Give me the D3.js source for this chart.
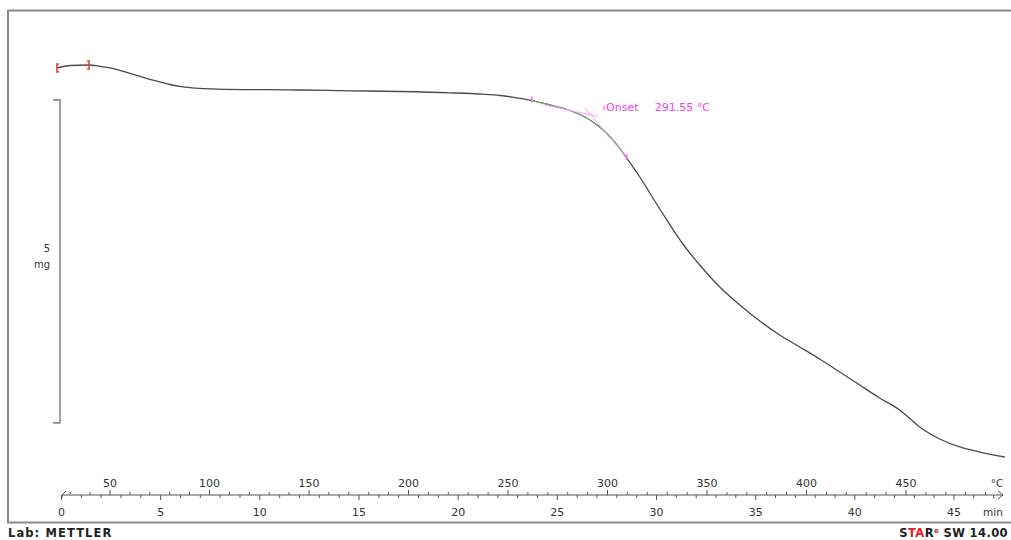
<!DOCTYPE html>
<html>
<head>
<meta charset="utf-8">
<script src="https://cdn.jsdelivr.net/npm/d3@7/dist/d3.min.js"></script>
<style>
  html, body { margin: 0; padding: 0; background: #fff; }
  svg { display: block; }
  text { font-family: "DejaVu Sans", Verdana, sans-serif; }
</style>
</head>
<body>
<svg id="chart" width="1011" height="540"></svg>
<script>
// TGA curve: sample mass (mg) against time (min), heating 10 K/min
const timeMin = [-0.23, 0.43, 1.39, 1.94, 2.44, 2.95, 3.45, 3.96, 4.46, 4.96,
  5.47, 5.97, 6.48, 6.98, 7.84, 12.02, 14.54, 17.06, 19.58, 21.24,
  22.10, 22.96, 23.71, 24.62, 25.48, 26.39, 27.14, 27.80, 28.50, 29.16,
  29.66, 30.52, 31.33, 32.18, 33.19, 34.20, 35.21, 36.21, 37.22, 38.23,
  39.24, 40.25, 41.25, 42.26, 42.51, 43.27, 44.28, 45.29, 46.30, 47.56];
const massMg = [9.954, 9.992, 10.000, 9.980, 9.954, 9.915, 9.872, 9.825, 9.779, 9.737,
  9.698, 9.670, 9.650, 9.638, 9.628, 9.613, 9.601, 9.590, 9.570, 9.548,
  9.528, 9.492, 9.450, 9.381, 9.311, 9.195, 9.040, 8.839, 8.560, 8.266,
  8.019, 7.601, 7.229, 6.904, 6.563, 6.285, 6.037, 5.820, 5.635, 5.449,
  5.248, 5.046, 4.845, 4.659, 4.598, 4.396, 4.211, 4.087, 4.009, 3.932];

// axis ticks
const timeTicks = [0, 5, 10, 15, 20, 25, 30, 35, 40, 45];
const tempTicks = [50, 100, 150, 200, 250, 300, 350, 400, 450];

// evaluation: onset of the main step
const onsetTemp = 291.55;
const onsetMass = 9.226;                 // mg, where the tangents cross
const evalRange = [23.71, 28.50];        // min, limits of the evaluation
const tangentSlopes = [-0.067, -0.359];  // mg/min, baseline and inflection tangents
const tangentSpans = [[-2.4, 0.37], [-0.29, 1.83]]; // min around onset
const massBar = [9.46, 4.46];            // 5 mg scale bar
const bracketTimes = [-0.23, 1.39];      // blank-curve marks

const svg = d3.select("#chart");

const x = d3.scaleLinear().domain([0, 45]).range([61.5, 954]);
const xT = d3.scaleLinear().domain([50, 450]).range([110, 906]);
const y = d3.scaleLinear().domain([10, 5]).range([65, 388]);

const data = timeMin.map((t, i) => ({ t, m: massMg[i] }));
const massAt = t => {
  const i = d3.bisector(d => d.t).left(data, t);
  if (i <= 0) return data[0].m;
  if (i >= data.length) return data[data.length - 1].m;
  const a = data[i - 1], b = data[i];
  return a.m + (b.m - a.m) * (t - a.t) / (b.t - a.t);
};

// frame
svg.append("rect").attr("x", 8).attr("y", 10.5).attr("width", 1020).attr("height", 512)
  .attr("fill", "none").attr("stroke", "#8a8a8a").attr("stroke-width", 2);

// scale bar
const gBar = svg.append("g").attr("stroke", "#8c8c8c").attr("stroke-width", 1.6).attr("fill", "none");
gBar.append("path").attr("d", `M53,${y(massBar[0])}H60V${y(massBar[1])}H53`);
svg.append("text").attr("x", 50).attr("y", 252).attr("text-anchor", "end")
  .attr("font-size", 10).attr("fill", "#333").text("5");
svg.append("text").attr("x", 50).attr("y", 268).attr("text-anchor", "end")
  .attr("font-size", 10).attr("fill", "#333").text("mg");

// curve
const line = d3.line().x(d => x(d.t)).y(d => y(d.m)).curve(d3.curveMonotoneX);
svg.append("path").datum(data).attr("d", line)
  .attr("fill", "none").attr("stroke", "#4a4a4a").attr("stroke-width", 1.3);

// evaluated segment
const segData = data.filter(d => d.t > evalRange[0] && d.t < evalRange[1]);
segData.unshift({ t: evalRange[0], m: massAt(evalRange[0]) });
segData.push({ t: evalRange[1], m: massAt(evalRange[1]) });
svg.append("path").datum(segData).attr("d", line)
  .attr("fill", "none").attr("stroke", "#7fd07f").attr("stroke-width", 0.9).attr("opacity", 0.9);

// onset construction
const onsetX = xT(onsetTemp);
const onsetT = x.invert(onsetX);
tangentSlopes.forEach((s, i) => {
  const [a, b] = tangentSpans[i];
  svg.append("line")
    .attr("x1", x(onsetT + a)).attr("y1", y(onsetMass + s * a))
    .attr("x2", x(onsetT + b)).attr("y2", y(onsetMass + s * b))
    .attr("stroke", "#ff9cff").attr("stroke-width", 1);
});
evalRange.forEach(t => {
  const px = x(t), py = y(massAt(t));
  svg.append("path").attr("d", `M${px},${py - 4}V${py + 2}`)
    .attr("stroke", "#f070f0").attr("stroke-width", 1.6);
});
const magenta = "#f040f0";
svg.append("text").attr("x", onsetX + 11).attr("y", 111)
  .attr("font-size", 11).attr("fill", magenta).text("›Onset");
svg.append("text").attr("x", onsetX + 64).attr("y", 111)
  .attr("font-size", 11).attr("fill", magenta).text(onsetTemp.toFixed(2) + " °C");

// blank-curve brackets
bracketTimes.forEach((t, i) => {
  const px = x(t), py = y(massAt(t));
  const d = i === 0 ? `M${px + 2},${py - 4}H${px}V${py + 4}H${px + 2}`
                    : `M${px - 2},${py - 4}H${px}V${py + 4}H${px - 2}`;
  svg.append("path").attr("d", d).attr("fill", "none")
    .attr("stroke", "#ee3b3b").attr("stroke-width", 1.6);
});

// dual abscissa: temperature above, time below
const axY = 495;
const gAx = svg.append("g").attr("stroke", "#555").attr("stroke-width", 1).attr("fill", "none");
gAx.append("line").attr("x1", 62).attr("x2", 1003).attr("y1", axY).attr("y2", axY);
gAx.append("path").attr("d", `M998,${axY - 4}L1003,${axY}L998,${axY + 4}`);
gAx.append("path").attr("d", `M62,${axY + 3}V${axY}L66,${axY - 4}`);
d3.range(0, 48).forEach(t => {
  const major = t % 5 === 0;
  gAx.append("line").attr("x1", x(t)).attr("x2", x(t))
    .attr("y1", axY).attr("y2", axY + (major ? 5 : 3));
});
d3.range(30, 500, 10).forEach(T => {
  const major = T % 50 === 0;
  const px = xT(T);
  if (px > 996) return;
  gAx.append("line").attr("x1", px).attr("x2", px)
    .attr("y1", axY).attr("y2", axY - (major ? 5 : 3));
});
svg.append("g").selectAll("text").data(tempTicks).join("text")
  .attr("x", d => xT(d)).attr("y", 487).attr("text-anchor", "middle")
  .attr("font-size", 11).attr("fill", "#333").text(d => d);
svg.append("g").selectAll("text").data(timeTicks).join("text")
  .attr("x", d => x(d)).attr("y", 516).attr("text-anchor", "middle")
  .attr("font-size", 11).attr("fill", "#333").text(d => d);
svg.append("text").attr("x", 997).attr("y", 487).attr("text-anchor", "middle")
  .attr("font-size", 10.5).attr("fill", "#333").text("°C");
svg.append("text").attr("x", 993).attr("y", 516).attr("text-anchor", "middle")
  .attr("font-size", 10.5).attr("fill", "#333").text("min");

// footer
svg.append("text").attr("x", 8).attr("y", 537)
  .attr("font-size", 11.5).attr("font-weight", "bold").attr("fill", "#222")
  .attr("letter-spacing", 1.1)
  .text("Lab: METTLER");
const star = svg.append("text").attr("x", 1008).attr("y", 537)
  .attr("text-anchor", "end")
  .attr("font-size", 11.5).attr("font-weight", "bold").attr("fill", "#222")
  .attr("letter-spacing", 0.4);
star.append("tspan").text("S");
star.append("tspan").attr("fill", "#e82020").text("TA");
star.append("tspan").text("R");
star.append("tspan").attr("fill", "#e82020").attr("font-size", 7).attr("dy", -4).text("e");
star.append("tspan").attr("dy", 4).text(" SW 14.00");
</script>
</body>
</html>
